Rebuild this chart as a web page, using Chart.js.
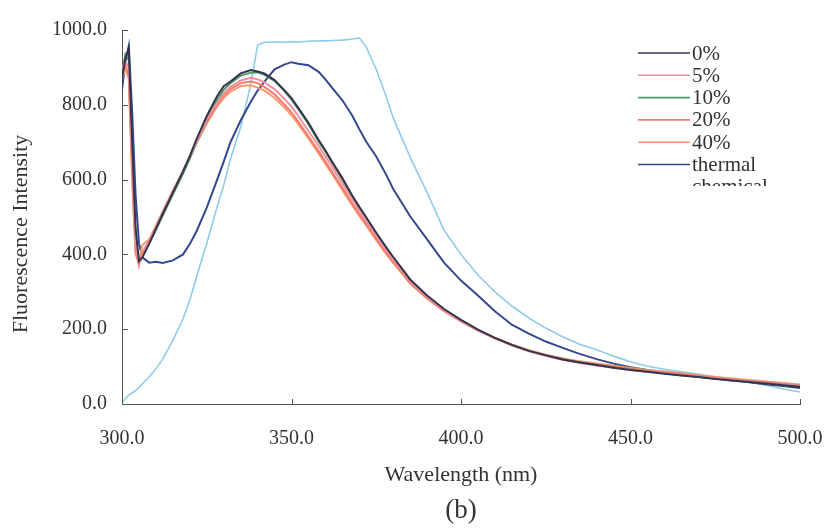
<!DOCTYPE html>
<html>
<head>
<meta charset="utf-8">
<script src="https://cdn.jsdelivr.net/npm/chart.js@4.4.1/dist/chart.umd.min.js"></script>
<style>
  html, body { margin: 0; padding: 0; background: #fff; }
  #wrap { width: 827px; height: 530px; }
</style>
</head>
<body>
<div id="wrap"><canvas id="spectra" width="827" height="530"></canvas></div>
<script>
// wavelengths (nm)
var wavelength = [300,301,302,303,304,305,306,308,310,312,315,318,320,322,325,328,330,332,335,338,340,342,345,348,350,352,355,358,360,362,365,368,370,372,375,378,380,385,390,395,400,405,410,415,420,425,430,435,440,445,450,455,460,465,470,475,480,485,490,495,500];

var labels = ['0%', '5%', '10%', '20%', '40%', 'thermal', 'chemical'];

var p0 = [870,925,950,700,470,382,392,428,468,508,565,622,663,708,770,822,850,862,884,893,889,884,866,838,818,792,752,706,678,648,604,556,527,500,458,418,393,333,290,254,225,199,177,158,142,130,119,111,104,97,91,86,81,76,72,67,63,59,55,50,46];
var p5 = [900,915,900,650,430,372,400,432,470,510,568,624,662,702,760,805,830,848,865,872,868,860,842,815,795,770,730,690,662,634,590,546,518,490,450,410,386,328,286,251,222,197,175,157,141,129,118,110,103,97,91,86,82,77,73,68,64,60,56,51,48];
var p10 = [880,935,920,680,450,378,396,430,466,504,560,616,656,700,760,812,840,858,878,886,887,880,864,836,814,788,748,702,675,645,600,552,524,497,455,415,390,331,288,252,223,198,176,157,142,130,119,111,104,98,92,87,82,77,73,68,64,60,56,51,48];
var p20 = [890,905,880,620,410,370,405,436,474,512,568,622,660,700,755,800,825,842,858,862,858,848,828,800,780,755,716,676,648,620,578,535,508,482,442,404,380,324,283,249,221,197,176,158,143,131,121,113,106,100,94,89,85,80,75,70,66,62,58,54,50];
var p40 = [870,895,870,600,400,380,425,440,476,514,570,622,658,698,750,795,818,835,850,852,846,838,818,792,772,748,710,670,642,615,572,530,503,478,438,400,377,322,282,248,221,197,177,159,144,132,122,114,108,102,96,91,87,82,77,72,68,64,60,56,52];
var thermal = [840,915,958,780,560,430,392,378,380,377,384,400,428,462,525,598,648,700,758,808,838,862,895,908,914,910,906,888,868,845,812,770,735,702,662,612,575,502,440,378,330,290,248,212,188,167,150,134,120,108,98,91,84,78,73,68,63,58,53,48,43];
var chemical = [5,14,24,30,36,44,54,72,94,120,170,228,278,340,430,525,585,655,740,855,960,967,968,967,969,968,970,971,971,972,973,976,979,955,895,820,765,660,565,465,400,345,300,262,230,203,180,160,145,128,113,101,93,86,80,73,66,58,50,40,32];

var xTicks = [300, 350, 400, 450, 500];
var yTicks = [0, 200, 400, 600, 800, 1000];

var colors = ['#34344e', '#f2909e', '#4f9a62', '#f57b6e', '#f79a6c', '#34478f', '#8fcbea'];
var series = [p0, p5, p10, p20, p40, thermal, chemical];

function toPoints(arr) {
    return wavelength.map(function(w, i) { return { x: w, y: arr[i] }; });
}

var datasets = series.map(function(s, i) {
    return {
        label: labels[i],
        data: toPoints(s),
        borderColor: colors[i],
        borderWidth: i == 6 ? 1.6 : 2,
        pointRadius: 0,
        tension: 0,
        fill: false
    };
});

var serif = 'Liberation Serif';

// inward tick marks, clipped legend, y title, figure label
var extras = {
    id: 'extras',
    afterDatasetsDraw: function(chart) {
        var ctx = chart.ctx;
        var xs = chart.scales.x, ys = chart.scales.y;
        var area = chart.chartArea;
        ctx.save();
        ctx.strokeStyle = '#555';
        ctx.lineWidth = 1;
        xTicks.forEach(function(t) {
            var px = Math.round(xs.getPixelForValue(t)) + 0.5;
            ctx.beginPath();
            ctx.moveTo(px, area.bottom);
            ctx.lineTo(px, area.bottom - 5);
            ctx.stroke();
        });
        yTicks.forEach(function(t) {
            var py = Math.round(ys.getPixelForValue(t)) + 0.5;
            ctx.beginPath();
            ctx.moveTo(area.left, py);
            ctx.lineTo(area.left + 6, py);
            ctx.stroke();
        });
        ctx.restore();

        // legend (bottom entry is cut off in the original)
        ctx.save();
        ctx.beginPath();
        ctx.rect(620, 35, 200, 151);
        ctx.clip();
        ctx.fillStyle = '#fff';
        ctx.fillRect(620, 35, 200, 151);
        ctx.font = '21px "' + serif + '"';
        ctx.textBaseline = 'middle';
        ctx.textAlign = 'left';
        chart.data.datasets.forEach(function(ds, i) {
            var y = 53 + i * 22.3;
            ctx.strokeStyle = ds.borderColor;
            ctx.lineWidth = 1.6;
            ctx.beginPath();
            ctx.moveTo(638, y);
            ctx.lineTo(690, y);
            ctx.stroke();
            ctx.fillStyle = '#333';
            ctx.fillText(ds.label, 692, y + 1);
        });
        ctx.restore();

        ctx.save();
        ctx.fillStyle = '#333';
        ctx.textAlign = 'center';
        ctx.textBaseline = 'middle';
        ctx.font = '22px "' + serif + '"';
        ctx.translate(21, 234);
        ctx.rotate(-Math.PI / 2);
        ctx.fillText('Fluorescence Intensity', 0, 0);
        ctx.restore();

        ctx.save();
        ctx.font = '27px "' + serif + '"';
        ctx.fillStyle = '#333';
        ctx.textAlign = 'center';
        ctx.textBaseline = 'middle';
        ctx.fillText('(b)', (area.left + area.right) / 2, 511);
        ctx.restore();
    }
};

var chart = new Chart(document.getElementById('spectra'), {
    type: 'line',
    data: { datasets: datasets },
    options: {
        responsive: false,
        animation: false,
        layout: { padding: { left: 0, top: 30, right: 27, bottom: 0 } },
        plugins: {
            legend: { display: false },
            tooltip: { enabled: false }
        },
        scales: {
            x: {
                type: 'linear',
                min: 300,
                max: 500,
                afterFit: function(scale) {
                    scale.height = 126;
                    scale.paddingLeft = 0;
                    scale.paddingRight = 0;
                },
                afterBuildTicks: function(scale) {
                    scale.ticks = xTicks.map(function(v) { return { value: v }; });
                },
                grid: { display: false, drawTicks: false },
                border: { display: true, color: '#555', width: 1 },
                ticks: {
                    padding: 23,
                    color: '#333',
                    font: { family: serif, size: 20 },
                    maxRotation: 0,
                    callback: function(v) { return v.toFixed(1); }
                },
                title: {
                    display: true,
                    text: 'Wavelength (nm)',
                    color: '#333',
                    font: { family: serif, size: 22 },
                    padding: { top: 0, bottom: 42 }
                }
            },
            y: {
                type: 'linear',
                min: 0,
                max: 1000,
                afterFit: function(scale) {
                    scale.width = 122;
                    scale.paddingTop = 0;
                    scale.paddingBottom = 0;
                },
                afterBuildTicks: function(scale) {
                    scale.ticks = yTicks.map(function(v) { return { value: v }; });
                },
                grid: { display: false, drawTicks: false },
                border: { display: true, color: '#555', width: 1 },
                ticks: {
                    padding: 15,
                    color: '#333',
                    font: { family: serif, size: 20 },
                    callback: function(v) { return v.toFixed(1); }
                },
                title: { display: false }
            }
        }
    },
    plugins: [extras]
});
</script>
</body>
</html>
